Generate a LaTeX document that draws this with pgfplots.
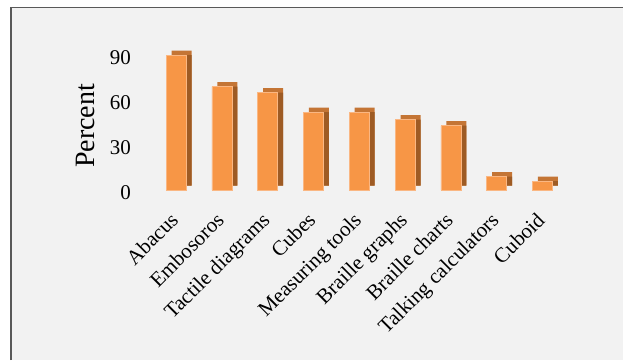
\documentclass[border=0pt]{standalone}
\usepackage{fontspec}
\setmainfont{Liberation Serif}
\usepackage{pgfplots}
\usepackage{pgfplotstable}
\pgfplotsset{compat=1.18}
\definecolor{barfront}{HTML}{F79646}
\definecolor{bartop}{HTML}{C47535}
\definecolor{barside}{HTML}{9E5B24}
\definecolor{baredge}{HTML}{FAB783}
\definecolor{bg}{HTML}{F2F2F2}
\definecolor{framec}{HTML}{595959}
\pgfplotstableread{
x y
0 90
1 69
2 65
3 52
4 52
5 47
6 43
7 9
8 6
}\datatable
\begin{document}
\begin{tikzpicture}
\useasboundingbox (0,0) rectangle (623pt,360pt);
\fill[bg] (11pt,0) rectangle (623pt,352.5pt);
\draw[framec, line width=1.2pt] (11pt,0) -- (11pt,352.5pt) -- (623pt,352.5pt);
\begin{axis}[
  at={(153.1pt,170pt)}, anchor=south west,
  scale only axis, width=412.2pt, height=150pt,
  xmin=-0.5, xmax=8.5, ymin=0, ymax=100,
  axis line style={draw=none}, major tick length=0pt,
  xtick=data,
  xticklabels={Abacus,Embosoros,Tactile diagrams,Cubes,Measuring tools,Braille graphs,Braille charts,Talking calculators,Cuboid},
  ytick={0,30,60,90},
  /pgf/number format/assume math mode=true,
  ticklabel style={font=\fontsize{21}{22}\selectfont},
  yticklabel style={anchor=east, inner sep=0pt, xshift=-22pt, yshift=-3pt},
  xticklabel style={xshift=-7pt, yshift=-21pt, rotate=45, anchor=north east, inner sep=0pt},
  ylabel={Percent},
  ylabel style={font=\fontsize{28}{30}\selectfont, at={(rel axis cs:-0.165,0.427)}, anchor=center},
  ybar, bar width=20pt, clip=false,
]
\addplot[fill=bartop, draw=none, bar shift=5.5pt, yshift=4.5pt] table[x=x,y=y] {\datatable};
\addplot[fill=barside, draw=none, bar shift=5.5pt, yshift=4.5pt] table[x=x,y expr=\thisrow{y}-3] {\datatable};
\addplot[fill=barfront, draw=baredge, line width=0.6pt, bar shift=0pt] table[x=x,y=y] {\datatable};
\end{axis}
\end{tikzpicture}
\end{document}
